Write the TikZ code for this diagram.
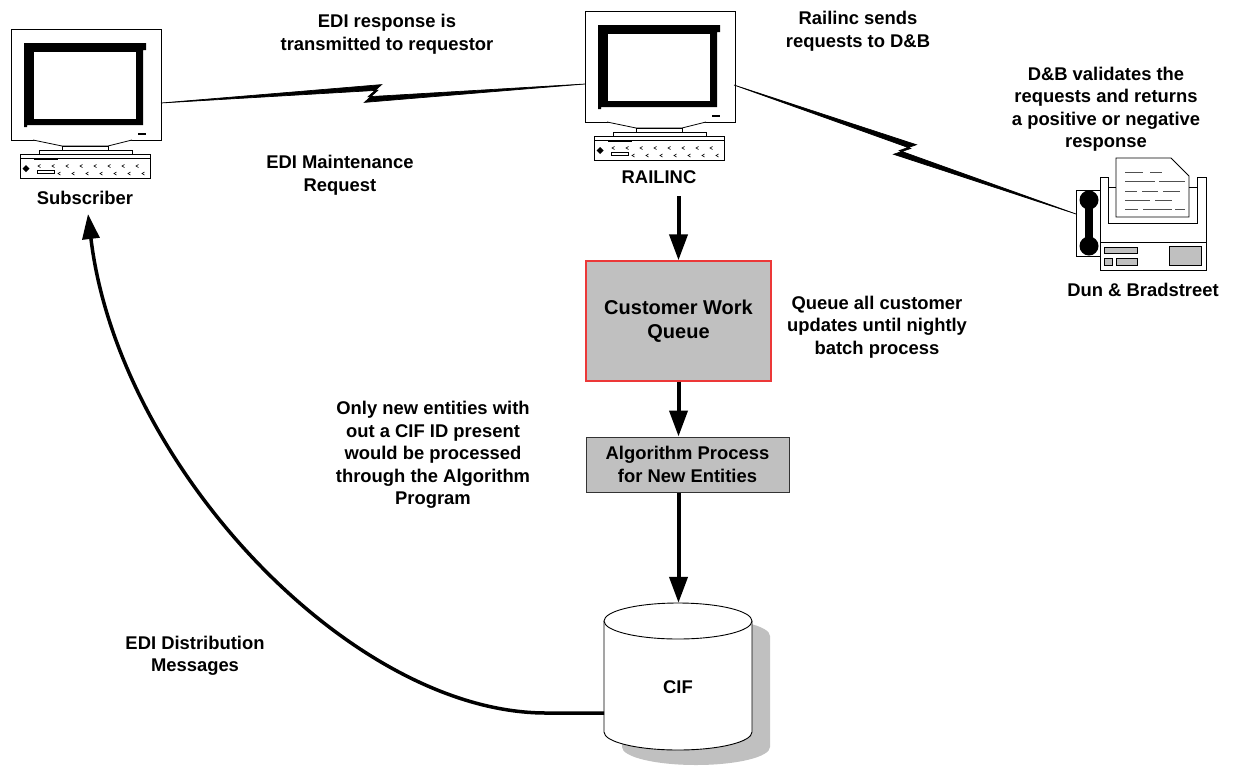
\documentclass[tikz,border=0pt]{standalone}
\usepackage{fontspec}
\setmainfont{Liberation Sans}
\usetikzlibrary{arrows.meta,calc}
\definecolor{boxgray}{RGB}{192,192,192}
\definecolor{cwqred}{RGB}{236,56,56}
\definecolor{shadowgray}{RGB}{192,192,192}
\definecolor{paperline}{RGB}{80,80,80}

\newcommand\drawcomputer[1]{%
\begin{scope}[shift={#1}, line width=0.8pt]
  \draw[fill=white] (0,0) rectangle (150,111);
  \fill (13,14) -- (135,14) -- (135,21) -- (132,21) -- (132,96) -- (16,96) -- (16,98) -- (13,98) -- cycle;
  \fill[white] (23,23) rectangle (125,90);
  \fill (127,104) rectangle (135,106);
  \draw[fill=white] (22,111) -- (51,117) -- (97,117) -- (121,111);
  \draw[fill=white] (51,117) rectangle (97,121);
  \draw[fill=white] (28,121) rectangle (121,125);
  \draw[fill=white] (9,125) rectangle (139,149);
  \draw (9,129.5) -- (139,129.5);
  \fill (23,128.5) rectangle (47,131);
  \fill (15,136) -- (18.5,139.5) -- (15,143) -- (11.5,139.5) -- cycle;
  \draw (26,141.5) rectangle (43,144.5);
  \foreach \cx in {27,41,55,69,83,97,111,125}
    \draw[line width=0.6pt] (\cx+2.5,135.5) -- (\cx,137) -- (\cx+2.5,138.5);
  \foreach \cx in {47,61,75,89,103,117,131}
    \draw[line width=0.6pt] (\cx+2.5,143) -- (\cx,144.5) -- (\cx+2.5,146);
\end{scope}}

\newcommand\boltlink[2]{%
  \path coordinate (bm) at ($(#1)!0.5!(#2)$);
  \path coordinate (bp) at ($(bm)!9pt!(#2)$)
        coordinate (bq) at ($(bm)!-9pt!(#2)$)
        coordinate (bpd) at ($(bm)!5pt!(#2)$)
        coordinate (bqd) at ($(bm)!-5pt!(#2)$);
  \filldraw[line width=0.7pt, line join=miter]
    (#1) -- ($(bp)!8.5pt!90:(#2)$) -- ($(bqd)!3pt!-90:(#2)$) -- (#2)
    -- ($(bq)!8.5pt!-90:(#2)$) -- ($(bpd)!3pt!90:(#2)$) -- cycle;
}

\tikzset{
  lbl/.style={font=\bfseries\fontsize{18.4}{22.5}\selectfont, align=center, inner sep=0pt},
  bigarrow/.style={line width=4pt, -{Triangle[width=18pt,length=26pt]}},
  procbox/.style={fill=boxgray, line width=1pt, inner sep=0pt, align=center,
    font=\bfseries\fontsize{18.4}{22.5}\selectfont},
}

\begin{document}
\begin{tikzpicture}[x=1pt,y=-1pt]
\useasboundingbox (0,0) rectangle (1234,766);

% computers
\drawcomputer{(11,29)}
\drawcomputer{(585,11)}
\node[minimum width=150pt, minimum height=111pt, inner sep=0pt] (sub) at (86,84.5) {};
\node[minimum width=150pt, minimum height=111pt, inner sep=0pt] (rail) at (660,66.5) {};
\node[lbl] (subLbl) at (85,198) {Subscriber};
\node[lbl] (railLbl) at (659,177) {RAILINC};

% fax machine (Dun & Bradstreet)
\begin{scope}[line width=0.8pt]
  \draw[fill=white] (1100,177) -- (1108,177) -- (1108,223) -- (1197,223) -- (1197,177)
     -- (1206,177) -- (1206,270) -- (1100,270) -- cycle;
  \draw (1100,242) -- (1206,242);
  \draw[fill=white] (1116,158) -- (1171,158) -- (1189,176) -- (1189,217) -- (1116,217) -- cycle;
  \draw (1108,187) -- (1116,187) (1189,187) -- (1197,187);
  \begin{scope}[paperline, line width=1pt]
    \draw (1125,172) -- (1143,172) (1150,172) -- (1162,172);
    \draw (1125,181) -- (1155,181) (1159,181) -- (1185,181);
    \draw (1125,191) -- (1137,191) (1142,191) -- (1158,191) (1163,191) -- (1180,191);
    \draw (1125,200) -- (1150,200) (1155,200) -- (1172,200);
    \draw (1125,209) -- (1138,209) (1143,209) -- (1172,209) (1175,209) -- (1185,209);
  \end{scope}
  \draw[fill=boxgray] (1104,247) rectangle (1137,253);
  \draw[fill=boxgray] (1104,258) rectangle (1112,265);
  \draw[fill=boxgray] (1116,258) rectangle (1137,265);
  \draw[fill=boxgray] (1169,246) rectangle (1201,265);
  \draw[fill=white] (1076,190) rectangle (1100,256);
  \fill (1089,200) circle[radius=9.5];
  \fill (1089,246) circle[radius=9.5];
  \fill (1085,200) rectangle (1093,246);
\end{scope}
\node[minimum width=130pt, minimum height=112pt, inner sep=0pt] (db) at (1141,214) {};
\node[lbl] (dbLbl) at (1143,290) {Dun \& Bradstreet};

% process boxes
\node[procbox, draw=cwqred, line width=1.4pt, minimum width=185pt, minimum height=120pt,
  font=\bfseries\fontsize{20}{24.3}\selectfont] (cwq) at (678.5,321) {Customer Work\\Queue};
\node[procbox, draw=black!80, minimum width=203pt, minimum height=55pt] (algo) at (687.5,464.5)
  {Algorithm Process\\for New Entities};

% CIF cylinder
\begin{scope}[shift={(18,15)}]
  \fill[shadowgray] (604,621) -- (604,732) arc[start angle=180,end angle=0,x radius=74,y radius=18]
    -- (752,621) arc[start angle=0,end angle=-180,x radius=74,y radius=18] -- cycle;
\end{scope}
\draw[fill=white, line width=0.9pt] (604,621) -- (604,732) arc[start angle=180,end angle=0,x radius=74,y radius=18] -- (752,621);
\draw[fill=white, line width=0.9pt] (678,621) ellipse[x radius=74, y radius=18];
\node[minimum width=148pt, minimum height=147pt, inner sep=0pt] (cif) at (678,676.5) {};
\node[lbl] at (678,687) {CIF};

% connectors
\coordinate (b1s) at (161,103);
\coordinate (b1e) at (585,84);
\coordinate (b2s) at (734,85);
\coordinate (b2e) at (1076,214);
\boltlink{b1s}{b1e}
\boltlink{b2s}{b2e}

\coordinate (a1s) at (678.5,196);
\draw[bigarrow] (a1s) -- (cwq.north);
\draw[bigarrow] (cwq.south) -- (cwq.south |- algo.north);
\draw[bigarrow] (cwq.south |- algo.south) -- (cwq.south |- cif.north);

\coordinate (cifL) at (604,713);
\coordinate (curveS) at (545,713);
\coordinate (subTip) at (88,214);
\draw[line width=3.5pt, -{Triangle[width=17pt,length=25pt]}]
  (cifL) -- (curveS) .. controls (350,712) and (118,465) .. (subTip);

% labels
\node[lbl] (t1) at (387,34) {EDI response is\\transmitted to requestor};
\node[lbl] (t2) at (858,31) {Railinc sends\\requests to D\&B};
\node[lbl] (t3) at (1106,109) {D\&B validates the\\requests and returns\\a positive or negative\\response};
\node[lbl] (t4) at (340,175) {EDI Maintenance\\Request};
\node[lbl] (t5) at (877,327) {Queue all customer\\updates until nightly\\batch process};
\node[lbl] (t6) at (433,455) {Only new entities with\\out a CIF ID present\\would be processed\\through the Algorithm\\Program};
\node[lbl] (t7) at (195,656) {EDI Distribution\\Messages};
\end{tikzpicture}
\end{document}
